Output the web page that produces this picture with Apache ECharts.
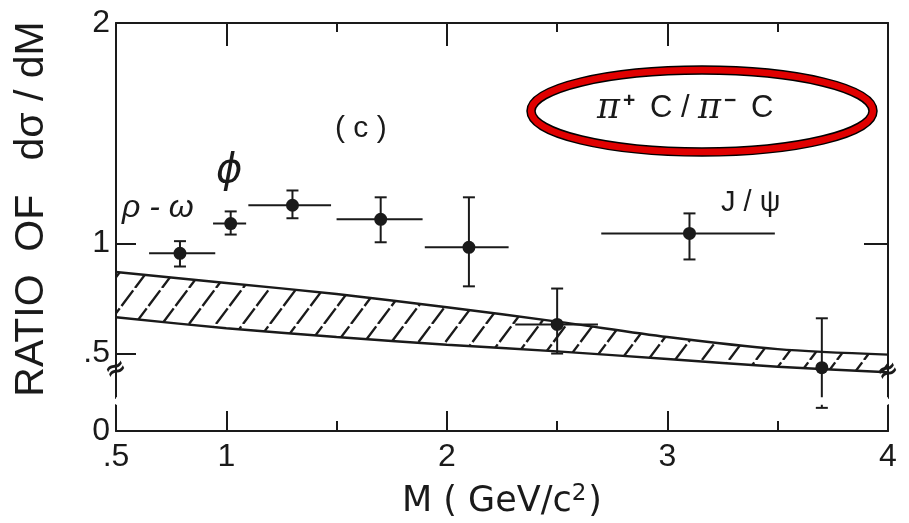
<!DOCTYPE html>
<html>
<head>
<meta charset="utf-8">
<script src="https://cdn.jsdelivr.net/npm/echarts@6/dist/echarts.min.js"></script>
<style>
  html, body { margin: 0; padding: 0; background: #fff; }
  #chart { width: 909px; height: 523px; }
</style>
</head>
<body>
<div id="chart"></div>
<script>
// Dimuon mass bins (GeV/c^2): centre and horizontal extent
const massCenter = [0.79, 1.02, 1.3, 1.7, 2.1, 2.5, 3.1, 3.7];
const massLow    = [0.65, 0.94, 1.1, 1.5, 1.9, 2.31, 2.7, 3.7];
const massHigh   = [0.95, 1.09, 1.475, 1.89, 2.28, 2.685, 3.487, 3.7];
// Measured ratio and its error bar ends
const ratio      = [0.955, 1.09, 1.173, 1.109, 0.982, 0.632, 1.045, 0.436];
const ratioLow   = [0.895, 1.04, 1.114, 1.005, 0.805, 0.5, 0.927, 0.105];
const ratioHigh  = [1.01, 1.145, 1.24, 1.209, 1.209, 0.795, 1.136, 0.66];
// Expected-ratio band (hatched)
const bandMass   = [0.5, 1, 1.5, 2, 2.5, 3, 3.5, 4];
const bandUpper  = [0.87, 0.82, 0.77, 0.71, 0.645, 0.575, 0.52, 0.495];
const bandLower  = [0.665, 0.615, 0.575, 0.54, 0.51, 0.475, 0.44, 0.415];
// Axis ticks and labels
const xTickLabels = [0.5, 1, 2, 3, 4];
const xMajorTicks = [1, 2, 3];
const xMinorTicks = [1.5, 2.5, 3.5];
const yTickLabels = [0, 0.5, 1, 2];
const yLeftTicks  = [0.5, 1];
const yRightTicks = [1];

const INK = '#1a1a1a';
const FONT = '"Liberation Sans", Arial, sans-serif';
const WIDE = '"DejaVu Sans", sans-serif';

function fmt(v) { return v === 0.5 ? '.5' : String(v); }

// diagonal hatch tile
function hatchTile() {
  const w = 27, h = 36;
  const c = document.createElement('canvas');
  c.width = w; c.height = h;
  const g = c.getContext('2d');
  g.strokeStyle = INK;
  g.lineWidth = 2.4;
  g.lineCap = 'butt';
  g.setLineDash([19.5, 3]);
  for (const dx of [-w, 0, w]) {
    g.beginPath();
    g.moveTo(dx, h);
    g.lineTo(dx + w, 0);
    g.stroke();
  }
  return c;
}
const hatch = hatchTile();

const yBreaks = [{ start: 0.12, end: 0.3, gap: '1.7%' }];
const breakStyle = {
  show: true,
  itemStyle: { color: '#fff', borderColor: '#fff', borderWidth: 0, opacity: 1 },
  zigzagAmplitude: 0,
  expandOnClick: false
};

const chart = echarts.init(document.getElementById('chart'), null, { renderer: 'canvas' });

const axisLine = { show: true, lineStyle: { color: INK, width: 2 } };

const option = {
  backgroundColor: '#fff',
  animation: false,
  grid: { left: 116, top: 23, width: 772, height: 408, containLabel: false, outerBoundsMode: 'none' },
  xAxis: [
    {
      type: 'value', position: 'bottom', min: 0.5, max: 4,
      axisLine: axisLine,
      splitLine: { show: false },
      axisTick: { show: true, inside: true, length: 20, customValues: xMajorTicks, lineStyle: { color: INK, width: 2 } },
      axisLabel: { show: true, customValues: xTickLabels, formatter: fmt, fontFamily: FONT, fontSize: 32, color: INK, margin: 10 },
      name: 'M ( GeV/c{s|2})',
      nameLocation: 'middle', nameGap: 52,
      nameTextStyle: {
        fontFamily: WIDE, fontSize: 35, color: INK,
        rich: { s: { fontFamily: WIDE, fontSize: 23, color: INK, verticalAlign: 'top', padding: [0, 2, 14, 0] } }
      }
    },
    {
      type: 'value', position: 'bottom', min: 0.5, max: 4,
      axisLine: { show: false }, splitLine: { show: false }, axisLabel: { show: false },
      axisTick: { show: true, inside: true, length: 10, customValues: xMinorTicks, lineStyle: { color: INK, width: 2 } }
    },
    {
      type: 'value', position: 'top', min: 0.5, max: 4,
      axisLine: axisLine, splitLine: { show: false }, axisLabel: { show: false },
      axisTick: { show: true, inside: true, length: 23, customValues: xMajorTicks, lineStyle: { color: INK, width: 2 } }
    },
    {
      type: 'value', position: 'top', min: 0.5, max: 4,
      axisLine: { show: false }, splitLine: { show: false }, axisLabel: { show: false },
      axisTick: { show: true, inside: true, length: 9, customValues: xMinorTicks, lineStyle: { color: INK, width: 2 } }
    }
  ],
  yAxis: [
    {
      type: 'value', position: 'left', min: 0, max: 2,
      breaks: yBreaks,
      breakArea: breakStyle,
      axisLine: axisLine,
      splitLine: { show: false },
      axisTick: { show: true, inside: true, length: 20, customValues: yLeftTicks, lineStyle: { color: INK, width: 2 } },
      axisLabel: { show: true, customValues: yTickLabels, formatter: fmt, fontFamily: FONT, fontSize: 32, color: INK, margin: 6 },
      name: 'RATIO  OF   dσ / dM',
      nameLocation: 'middle', nameRotate: 90, nameGap: 64,
      nameTextStyle: { fontFamily: FONT, fontSize: 41, color: INK, padding: [0, 0, 0, 36] }
    },
    {
      type: 'value', position: 'right', min: 0, max: 2,
      breaks: yBreaks,
      breakArea: breakStyle,
      axisLine: axisLine, splitLine: { show: false }, axisLabel: { show: false },
      axisTick: { show: true, inside: true, length: 24, customValues: yRightTicks, lineStyle: { color: INK, width: 2 } }
    }
  ],
  series: [
    {
      // hatched fill of the expected band
      type: 'custom',
      xAxisIndex: 0, yAxisIndex: 0,
      silent: true,
      data: bandMass.map((m, i) => [m, bandLower[i], bandUpper[i]]),
      encode: { x: 0, y: [1, 2] },
      renderItem: function (params, api) {
        if (params.dataIndex !== 0) return null;
        const up = bandMass.map((m, i) => api.coord([m, bandUpper[i]]));
        const lo = bandMass.map((m, i) => api.coord([m, bandLower[i]])).reverse();
        return {
          type: 'polygon',
          shape: { points: up.concat(lo) },
          style: { fill: { image: hatch, repeat: 'repeat' }, stroke: null }
        };
      },
      z: 1
    },
    {
      type: 'line', xAxisIndex: 0, yAxisIndex: 0, silent: true,
      data: bandMass.map((m, i) => [m, bandUpper[i]]),
      symbol: 'none', smooth: 0.3,
      lineStyle: { color: INK, width: 2.4 }, z: 2
    },
    {
      type: 'line', xAxisIndex: 0, yAxisIndex: 0, silent: true,
      data: bandMass.map((m, i) => [m, bandLower[i]]),
      symbol: 'none', smooth: 0.3,
      lineStyle: { color: INK, width: 2.4 }, z: 2
    },
    {
      // data points with horizontal bin width and vertical error bars
      type: 'custom',
      xAxisIndex: 0, yAxisIndex: 0,
      data: massCenter.map((m, i) => [m, ratio[i], massLow[i], massHigh[i], ratioLow[i], ratioHigh[i]]),
      encode: { x: [0, 2, 3], y: [1, 4, 5] },
      renderItem: function (params, api) {
        const c = api.coord([api.value(0), api.value(1)]);
        const l = api.coord([api.value(2), api.value(1)]);
        const r = api.coord([api.value(3), api.value(1)]);
        const t = api.coord([api.value(0), api.value(5)]);
        const b = api.coord([api.value(0), api.value(4)]);
        const cap = 6;
        const ls = { stroke: INK, lineWidth: 2 };
        const children = [
          { type: 'line', shape: { x1: l[0], y1: l[1], x2: r[0], y2: r[1] }, style: ls },
          { type: 'line', shape: { x1: t[0], y1: t[1], x2: b[0], y2: b[1] }, style: ls },
          { type: 'line', shape: { x1: t[0] - cap, y1: t[1], x2: t[0] + cap, y2: t[1] }, style: ls },
          { type: 'line', shape: { x1: b[0] - cap, y1: b[1], x2: b[0] + cap, y2: b[1] }, style: ls },
          { type: 'circle', shape: { cx: c[0], cy: c[1], r: 6.5 }, style: { fill: INK } }
        ];
        return { type: 'group', children: children };
      },
      z: 5
    }
  ],
  graphic: [
    { type: 'text', left: 122, top: 192, style: { text: 'ρ - ω', font: 'italic 32px ' + FONT, fill: INK } },
    { type: 'text', left: 216, top: 152, style: { text: 'ϕ', font: 'italic 40px ' + WIDE, fill: INK } },
    { type: 'text', left: 335, top: 114, style: { text: '( c )', font: '30px ' + FONT, fill: INK } },
    { type: 'text', left: 721, top: 188, style: { text: 'J / ψ', font: '29px ' + FONT, fill: INK } },
    { type: 'ellipse', shape: { cx: 702, cy: 111, rx: 171, ry: 41 }, style: { fill: 'none', stroke: '#000', lineWidth: 9.5 }, z: 10 },
    { type: 'ellipse', shape: { cx: 702, cy: 111, rx: 171, ry: 41 }, style: { fill: 'none', stroke: '#e00000', lineWidth: 6.5 }, z: 11 },
    {
      type: 'text', left: 597, top: 91, z: 12,
      style: {
        text: '{p|π}{s|+}{t| C / }{p|π}{s|−}{t| C}',
        rich: {
          p: { font: 'italic 35px "DejaVu Serif", serif', fill: INK },
          s: { font: 'bold 21px ' + FONT, fill: INK, verticalAlign: 'top', padding: [0, 6, 12, 3] },
          t: { font: '31px ' + FONT, fill: INK }
        }
      }
    },
    { type: 'text', x: 116, y: 370, rotation: 0.45, style: { text: '≈', font: 'bold 26px ' + WIDE, fill: INK, align: 'center', verticalAlign: 'middle' }, z: 20 },
    { type: 'text', x: 888, y: 372, rotation: 0.45, style: { text: '≈', font: 'bold 26px ' + WIDE, fill: INK, align: 'center', verticalAlign: 'middle' }, z: 20 }
  ]
};

chart.setOption(option);
</script>
</body>
</html>
